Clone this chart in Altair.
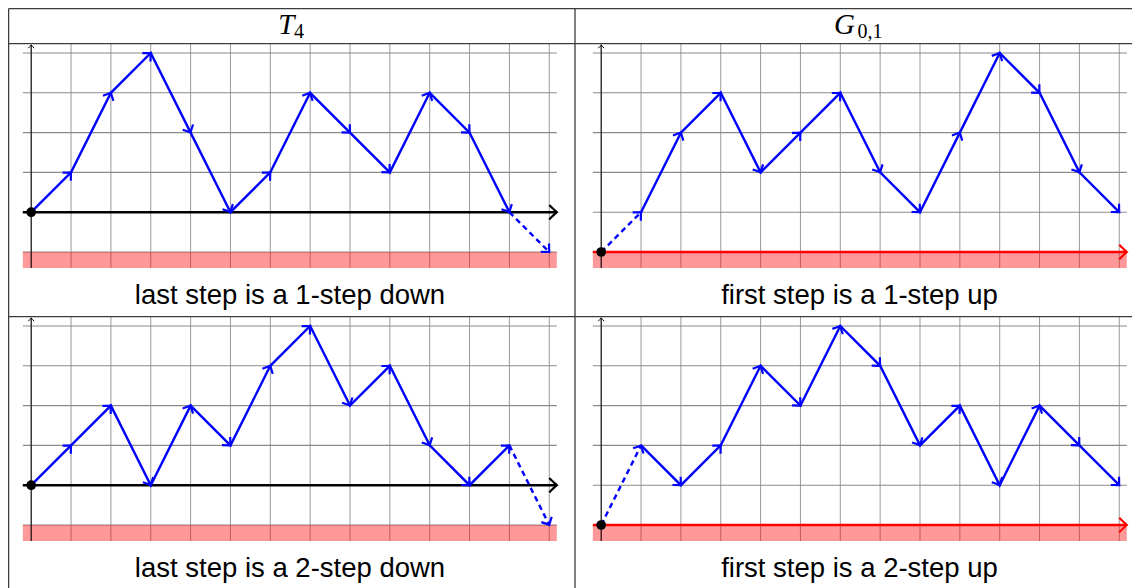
import math
import altair as alt
import pandas as pd

# ---------------- data: heights of the four lattice paths ----------------
steps = list(range(14))
t4_one_down = [0, 1, 3, 4, 2, 0, 1, 3, 2, 1, 3, 2, 0, -1]
t4_two_down = [0, 1, 2, 0, 2, 1, 3, 4, 2, 3, 1, 0, 1, -1]
g01_one_up = [0, 1, 3, 4, 2, 3, 4, 2, 1, 3, 5, 4, 2, 1]
g01_two_up = [0, 2, 1, 2, 4, 3, 5, 4, 2, 3, 1, 3, 2, 1]

header_main = ["T", "G"]
header_sub = ["4", "0,1"]
captions = [
    ["last step is a 1-step down", "first step is a 1-step up"],
    ["last step is a 2-step down", "first step is a 2-step up"],
]

# ---------------- layout (page pixels) ----------------
W, H = 1124, 580
MARGIN = 8
X0, UX = 31.2, 39.85          # step 0 of left column, px per step
Y0, UY = 252.0, 39.8          # level r=0 of top row, px per unit
COL_DX, ROW_DY = 570.0, 273.0
GRID_U = (-0.21, 13.19)
GRID_R = (-0.402, 5.23)
YAXIS_TOP = 5.2


def px_u(px):
    return (px - X0) / UX


def px_r(py):
    return (Y0 - py) / UY


def U(u, col):
    return u + col * COL_DX / UX


def R(r, row):
    return r - row * ROW_DY / UY


panels = [
    # row, col, heights, level of zero, dashed first step?
    (0, 0, t4_one_down, 1, False),
    (0, 1, g01_one_up, 0, True),
    (1, 0, t4_two_down, 1, False),
    (1, 1, g01_two_up, 0, True),
]

solid_rows, dash_rows, tip_rows, dot_rows = [], [], [], []
vgrid, hgrid, band, yaxis, ytips = [], [], [], [], []
xaxis_black, xaxis_red, xtip_black, xtip_red = [], [], [], []
for pid, (row, col, hs, z, dash_first) in enumerate(panels):
    n = len(hs)
    for i in range(n):
        rec = {"panel": pid, "step": steps[i], "x": U(steps[i], col), "y": R(hs[i] + z, row)}
        if dash_first:
            if i >= 1:
                solid_rows.append(rec)
            if i <= 1:
                dash_rows.append(rec)
        else:
            if i <= n - 2:
                solid_rows.append(rec)
            if i >= n - 2:
                dash_rows.append(rec)
    for i in range(n - 1):
        dx = UX * (steps[i + 1] - steps[i])
        dy = -UY * (hs[i + 1] - hs[i])
        ang = math.degrees(math.atan2(dy, dx)) % 360
        tip_rows.append({"x": U(steps[i + 1], col), "y": R(hs[i + 1] + z, row), "angle": ang})
    dot_rows.append({"x": U(0, col), "y": R(z, row)})
    for u in steps:
        vgrid.append({"x": U(u, col), "y": R(GRID_R[0], row), "y2": R(GRID_R[1], row)})
    for r in range(0, 6):
        hgrid.append({"x": U(GRID_U[0], col), "x2": U(GRID_U[1], col), "y": R(r, row)})
    band.append({"x": U(GRID_U[0], col), "x2": U(GRID_U[1], col), "y": R(GRID_R[0], row), "y2": R(0, row)})
    yaxis.append({"x": U(0, col), "y": R(GRID_R[0], row), "y2": R(YAXIS_TOP, row)})
    ytips.append({"x": U(0, col), "y": R(YAXIS_TOP, row), "angle": 270})
    ax = {"x": U(GRID_U[0], col), "x2": U(GRID_U[1], col), "y": R(z, row)}
    tp = {"x": U(GRID_U[1], col), "y": R(z, row), "angle": 0}
    if z == 1:
        xaxis_black.append(ax)
        xtip_black.append(tp)
    else:
        xaxis_red.append(ax)
        xtip_red.append(tp)

# captions and headers
cap_rows = []
for row in range(2):
    for col in range(2):
        cap_rows.append({"x": px_u([290.0, 859.5][col]), "y": px_r(304.0 + row * ROW_DY), "t": captions[row][col]})
head_main = [{"x": px_u(px), "y": px_r(33.5), "t": t} for px, t in zip([294.5, 855.0], header_main)]
head_sub = [{"x": px_u(px), "y": px_r(37.5), "t": t} for px, t in zip([294.0, 857.5], header_sub)]

# table lines (page px)
RIGHT_EDGE = 1150.0
BOTTOM_EDGE = 600.0
tab_h = [{"x": px_u(8.6), "x2": px_u(RIGHT_EDGE), "y": px_r(py)} for py in [8.6, 43.7, 316.6]]
tab_v = [{"x": px_u(px), "y": px_r(8.6), "y2": px_r(BOTTOM_EDGE)} for px in [8.6, 575.0]]

xs = alt.Scale(domain=[px_u(MARGIN), px_u(MARGIN + W)], nice=False, zero=False)
ys = alt.Scale(domain=[px_r(MARGIN + H), px_r(MARGIN)], nice=False, zero=False)

X = lambda f="x": alt.X(f"{f}:Q", scale=xs, axis=None)
Y = lambda f="y": alt.Y(f"{f}:Q", scale=ys, axis=None)
D = lambda rows: alt.Chart(pd.DataFrame(rows))

ARROW = "M-1,-0.95Q-0.35,-0.3,0,0Q-0.35,0.3,-1,0.95"

layers = [
    D(vgrid).mark_rule(color="#9a9a9a", strokeWidth=1).encode(x=X(), y=Y(), y2="y2:Q"),
    D(hgrid).mark_rule(color="#8a8a8a", strokeWidth=1.1).encode(x=X(), x2="x2:Q", y=Y()),
    D(band).mark_rect(color="red", opacity=0.4).encode(x=X(), x2="x2:Q", y=Y(), y2="y2:Q"),
    D(yaxis).mark_rule(color="black", strokeWidth=1).encode(x=X(), y=Y(), y2="y2:Q"),
    D(ytips).mark_point(shape=ARROW, filled=False, color="black", strokeWidth=1, size=40, opacity=1)
    .encode(x=X(), y=Y(), angle=alt.Angle("angle:Q", scale=None)),
    D(xaxis_black).mark_rule(color="black", strokeWidth=2.4).encode(x=X(), x2="x2:Q", y=Y()),
    D(xaxis_red).mark_rule(color="red", strokeWidth=2.4).encode(x=X(), x2="x2:Q", y=Y()),
    D(xtip_black).mark_point(shape=ARROW, filled=False, color="black", strokeWidth=2.2, size=230, opacity=1)
    .encode(x=X(), y=Y(), angle=alt.Angle("angle:Q", scale=None)),
    D(xtip_red).mark_point(shape=ARROW, filled=False, color="red", strokeWidth=2.2, size=230, opacity=1)
    .encode(x=X(), y=Y(), angle=alt.Angle("angle:Q", scale=None)),
    D(tab_h).mark_rule(color="#3c3c3c", strokeWidth=1.3).encode(x=X(), x2="x2:Q", y=Y()),
    D(tab_v).mark_rule(color="#3c3c3c", strokeWidth=1.3).encode(x=X(), y=Y(), y2="y2:Q"),
    D(solid_rows).mark_line(color="blue", strokeWidth=2.4)
    .encode(x=X(), y=Y(), detail="panel:N", order="step:Q"),
    D(dash_rows).mark_line(color="blue", strokeWidth=2.4, strokeDash=[5.5, 4])
    .encode(x=X(), y=Y(), detail="panel:N", order="step:Q"),
    D(tip_rows).mark_point(shape=ARROW, filled=False, color="blue", strokeWidth=2.2, size=150, opacity=1)
    .encode(x=X(), y=Y(), angle=alt.Angle("angle:Q", scale=None)),
    D(dot_rows).mark_circle(color="black", size=95, opacity=1).encode(x=X(), y=Y()),
    D(cap_rows).mark_text(font="Liberation Sans", fontSize=27.5, color="black", align="center", baseline="alphabetic")
    .encode(x=X(), y=Y(), text="t:N"),
    D(head_main).mark_text(font="Liberation Serif", fontStyle="italic", fontSize=29, color="black", align="right", baseline="alphabetic")
    .encode(x=X(), y=Y(), text="t:N"),
    D(head_sub).mark_text(font="Liberation Serif", fontSize=20, color="black", align="left", baseline="alphabetic")
    .encode(x=X(), y=Y(), text="t:N"),
]

chart = alt.layer(*layers).properties(
    width=W, height=H, autosize=alt.AutoSizeParams(type="none"), padding=0
).configure_view(stroke=None)

chart.save("out.html", embed_options={"renderer": "svg", "actions": False})
